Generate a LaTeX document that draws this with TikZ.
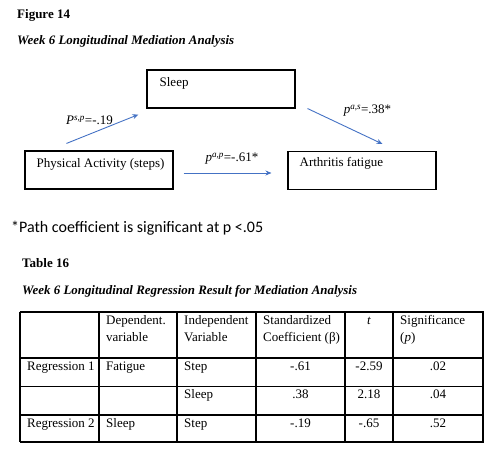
\documentclass[tikz,border=0pt]{standalone}
\usepackage{fontspec}
\setmainfont{Liberation Serif}
\newfontfamily\notefont{Carlito}
\usetikzlibrary{arrows.meta, positioning, calc}
\definecolor{pathblue}{RGB}{68,114,196}
\newcommand{\coefsup}[1]{\textsuperscript{\textit{#1}}}

\begin{document}
\begin{tikzpicture}[x=1pt, y=-1pt,
    font=\fontsize{13}{15}\selectfont,
    frame/.style={draw, line width=1.1pt, minimum width=148pt, minimum height=38pt, inner sep=0pt},
    intext/.style={anchor=base west, inner sep=0pt},
    effect/.style={-{Stealth[length=6pt, width=5pt]}, line width=0.9pt, pathblue},
    coef/.style={inner sep=0pt, text=black},
    cell/.style={anchor=base west, inner sep=0pt},
    num/.style={anchor=base, inner sep=0pt},
    heading/.style={anchor=base west, inner sep=0pt, font=\fontsize{13}{15}\selectfont\bfseries},
    subhead/.style={heading, font=\fontsize{12.9}{15}\selectfont\bfseries\itshape},
]
  \useasboundingbox (0,0) rectangle (500,457);

  % Figure heading
  \node[heading] (fighead) at (17,19) {Figure 14};
  \node[subhead] (figtitle) at (17,45) {Week 6 Longitudinal Mediation Analysis};

  % Mediation model
  \node[frame] (sleep) at (221,89) {};
  \node[frame] (steps) at (99,170) {};
  \node[frame] (fatigue) at (362,170.5) {};
  \node[intext] (sleeptxt) at ([shift={(13,17)}]sleep.north west) {Sleep};
  \node[intext] (stepstxt) at ([shift={(12,17)}]steps.north west) {Physical Activity (steps)};
  \node[intext] (fatiguetxt) at ([shift={(12,16)}]fatigue.north west) {Arthritis fatigue};

  \draw[effect] ([shift={(42,-7)}]steps.north west) -- node[coef, pos=0.32, above=9pt] {\textit{P}\coefsup{s,p}=-.19} ([shift={(-8,6)}]sleep.south west);
  \draw[effect] ([shift={(12,0)}]sleep.south east) -- node[coef, pos=0.8, above=20pt] {\textit{p}\coefsup{a,s}=.38*} ([shift={(95,-7)}]fatigue.north west);
  \draw[effect] ([shift={(10,3)}]steps.east) -- node[coef, pos=0.55, above=8pt] {\textit{p}\coefsup{a,p}=-.61*} ([shift={(-16,2.5)}]fatigue.west);

  \node[anchor=base west, inner sep=0pt, font=\notefont\fontsize{16}{18}\selectfont] (note) at (11,232)
    {*Path coefficient is significant at p <.05};

  % Table heading
  \node[heading] (tabhead) at (22,267) {Table 16};
  \node[subhead] (tabtitle) at (22,294) {Week 6 Longitudinal Regression Result for Mediation Analysis};

  % Table grid
  \foreach \x in {20,99,177,256,345,393,483}
    \draw[line width=1.1pt] (\x,312) -- (\x,442);
  \foreach \y in {312,358,386.5,415,442}
    \draw[line width=1.1pt] (19.5,\y) -- (483.5,\y);

  % Header row
  \node[cell] (h1a) at (106,324) {Dependent.};
  \node[cell] (h1b) at (106,341) {variable};
  \node[cell] (h2a) at (184,324) {Independent};
  \node[cell] (h2b) at (184,341) {Variable};
  \node[cell] (h3a) at (263,324) {Standardized};
  \node[cell] (h3b) at (263,341) {Coefficient (β)};
  \node[num] (h4) at (369,324) {\textit{t}};
  \node[cell] (h5a) at (400,324) {Significance};
  \node[cell] (h5b) at (400,341) {(\textit{p})};

  % Body rows
  \node[cell] (r1a) at (27,370) {Regression 1};
  \node[cell] (r1b) at (106,370) {Fatigue};
  \node[cell] (r1c) at (184,370) {Step};
  \node[num] (r1d) at (300.5,370) {-.61};
  \node[num] (r1e) at (369,370) {-2.59};
  \node[num] (r1f) at (438,370) {.02};

  \node[cell] (r2c) at (184,398) {Sleep};
  \node[num] (r2d) at (300.5,398) {.38};
  \node[num] (r2e) at (369,398) {2.18};
  \node[num] (r2f) at (438,398) {.04};

  \node[cell] (r3a) at (27,427) {Regression 2};
  \node[cell] (r3b) at (106,427) {Sleep};
  \node[cell] (r3c) at (184,427) {Step};
  \node[num] (r3d) at (300.5,427) {-.19};
  \node[num] (r3e) at (369,427) {-.65};
  \node[num] (r3f) at (438,427) {.52};
\end{tikzpicture}
\end{document}
